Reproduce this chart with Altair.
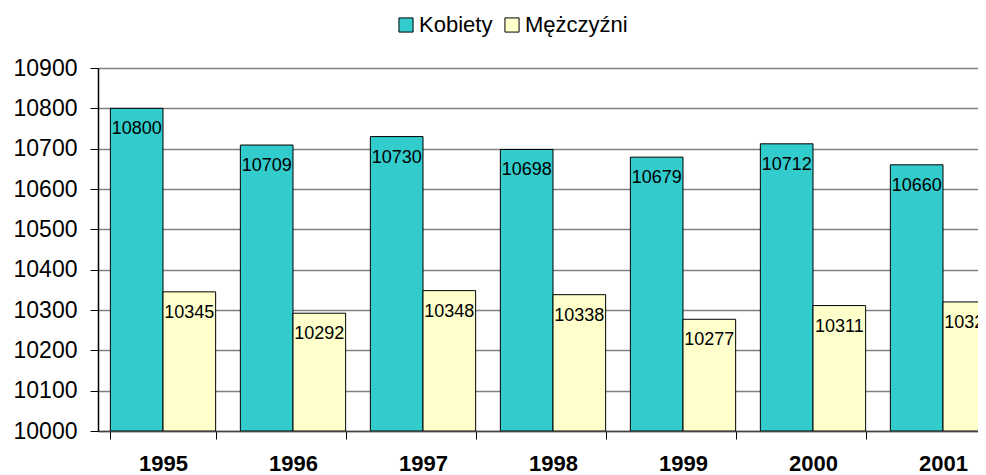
import altair as alt
import pandas as pd

years = ["1995", "1996", "1997", "1998", "1999", "2000", "2001"]
kobiety = [10800, 10709, 10730, 10698, 10679, 10712, 10660]
mezczyzni = [10345, 10292, 10348, 10338, 10277, 10311, 10320]
series = ["Kobiety", "Mężczyźni"]
colors = ["#33CCCC", "#FFFFCC"]
y_ticks = [10000, 10100, 10200, 10300, 10400, 10500, 10600, 10700, 10800, 10900]

rows = []
for i, y in enumerate(years):
    rows.append({"rok": y, "plec": series[0], "wartosc": kobiety[i]})
    rows.append({"rok": y, "plec": series[1], "wartosc": mezczyzni[i]})
df = pd.DataFrame(rows)

FONT = "Liberation Sans"

x_scale = alt.Scale(paddingInner=0.19, paddingOuter=0.095, range=[0, 910])

x_enc = alt.X(
    "rok:N",
    sort=years,
    title=None,
    scale=x_scale,
    axis=alt.Axis(
        labelAngle=0,
        labelFont=FONT,
        labelFontSize=22,
        labelFontWeight="bold",
        labelColor="black",
        labelPadding=14,
        tickBand="extent",
        tickSize=8,
        tickColor="black",
        domainColor="#444444",
        domainWidth=1.5,
        grid=False,
    ),
)
xoff = alt.XOffset("plec:N", sort=series, scale=alt.Scale(paddingInner=0, paddingOuter=0))
y_enc = alt.Y(
    "wartosc:Q",
    title=None,
    scale=alt.Scale(domain=[10000, 10900], zero=False, nice=False),
    axis=alt.Axis(
        values=y_ticks,
        labelFont=FONT,
        labelFontSize=23,
        labelColor="black",
        labelPadding=13,
        tickSize=8,
        tickColor="black",
        domainColor="black",
        domainWidth=1.5,
        grid=True,
        gridColor="#808080",
        gridWidth=1.5,
        format="d",
    ),
)

bars = alt.Chart(df).mark_bar(stroke="black", strokeWidth=1, clip=True).encode(
    x=x_enc,
    xOffset=xoff,
    y=y_enc,
    y2=alt.datum(10000),
    color=alt.Color(
        "plec:N",
        sort=series,
        scale=alt.Scale(domain=series, range=colors),
        legend=alt.Legend(
            title=None,
            orient="none",
            direction="horizontal",
            legendX=297,
            legendY=-54,
            symbolType="square",
            symbolSize=200,
            symbolStrokeColor="black",
            symbolStrokeWidth=1,
            symbolOpacity=1,
            labelFont=FONT,
            labelFontSize=22,
            labelColor="black",
            labelOffset=2,
            columnPadding=8,
            symbolOffset=0,
        ),
    ),
)

labels = alt.Chart(df).mark_text(
    font=FONT, fontSize=18, color="black", align="center", baseline="middle", dy=21, clip=True
).encode(
    x=alt.X("rok:N", sort=years),
    xOffset=alt.XOffset("plec:N", sort=series),
    y=alt.Y("wartosc:Q"),
    text=alt.Text("wartosc:Q", format="d"),
)

chart = (
    alt.layer(bars, labels)
    .properties(
        width=880,
        height=363,
        autosize=alt.AutoSizeParams(type="none"),
        padding={"left": 90, "top": 60, "right": 0, "bottom": 46},
    )
    .configure_view(stroke=None)
    .configure(background="white")
)

chart.save("out.html", embed_options={"renderer": "svg", "actions": False})
